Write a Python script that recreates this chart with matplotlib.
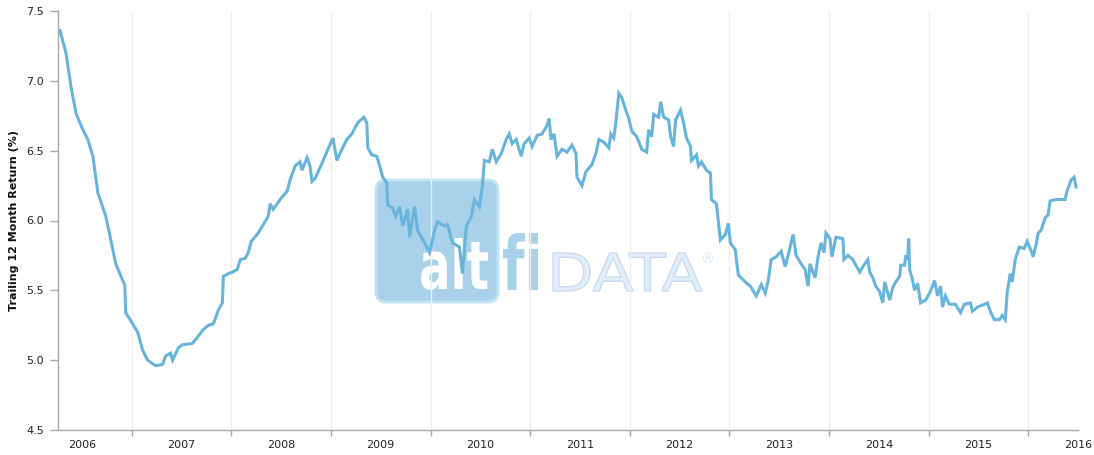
import matplotlib
matplotlib.use("Agg")
import matplotlib.pyplot as plt
from matplotlib.textpath import TextPath
from matplotlib.patches import PathPatch, FancyBboxPatch
from matplotlib.font_manager import FontProperties
from matplotlib.transforms import Affine2D
from matplotlib.ticker import FixedLocator, NullFormatter, FuncFormatter

# ---- data (decimal year, trailing 12 month return %) ----
years = [
    2006.28, 2006.34, 2006.39, 2006.44, 2006.51, 2006.56, 2006.61, 2006.66, 2006.74, 2006.79,
    2006.84, 2006.91, 2006.93, 2006.94, 2007.01, 2007.06, 2007.11, 2007.16, 2007.24, 2007.31,
    2007.34, 2007.39, 2007.41, 2007.47, 2007.51, 2007.61, 2007.72, 2007.77, 2007.82, 2007.87,
    2007.91, 2007.92, 2007.97, 2008.01, 2008.06, 2008.09, 2008.14, 2008.17, 2008.20, 2008.27,
    2008.37, 2008.39, 2008.42, 2008.49, 2008.56, 2008.59, 2008.64, 2008.69, 2008.71, 2008.76,
    2008.79, 2008.81, 2008.84, 2008.91, 2008.97, 2009.02, 2009.06, 2009.11, 2009.16, 2009.21,
    2009.27, 2009.33, 2009.36, 2009.37, 2009.41, 2009.46, 2009.49, 2009.52, 2009.56, 2009.57,
    2009.62, 2009.65, 2009.69, 2009.72, 2009.77, 2009.79, 2009.84, 2009.87, 2009.94, 2009.99,
    2010.04, 2010.07, 2010.14, 2010.17, 2010.22, 2010.29, 2010.32, 2010.36, 2010.41, 2010.44,
    2010.49, 2010.52, 2010.54, 2010.59, 2010.62, 2010.66, 2010.71, 2010.76, 2010.79, 2010.82,
    2010.86, 2010.91, 2010.94, 2010.99, 2011.02, 2011.07, 2011.12, 2011.17, 2011.19, 2011.21,
    2011.24, 2011.27, 2011.32, 2011.37, 2011.42, 2011.46, 2011.47, 2011.52, 2011.56, 2011.62,
    2011.66, 2011.69, 2011.74, 2011.79, 2011.81, 2011.84, 2011.86, 2011.89, 2011.92, 2011.96,
    2011.99, 2012.02, 2012.07, 2012.12, 2012.17, 2012.19, 2012.22, 2012.24, 2012.29, 2012.31,
    2012.34, 2012.39, 2012.41, 2012.44, 2012.46, 2012.51, 2012.54, 2012.57, 2012.61, 2012.62,
    2012.67, 2012.69, 2012.72, 2012.77, 2012.81, 2012.82, 2012.87, 2012.91, 2012.96, 2012.99,
    2013.01, 2013.06, 2013.07, 2013.09, 2013.16, 2013.21, 2013.27, 2013.32, 2013.36, 2013.39,
    2013.42, 2013.47, 2013.52, 2013.56, 2013.59, 2013.64, 2013.67, 2013.72, 2013.76, 2013.79,
    2013.81, 2013.86, 2013.89, 2013.92, 2013.95, 2013.97, 2014.01, 2014.03, 2014.07, 2014.14,
    2014.15, 2014.19, 2014.24, 2014.27, 2014.31, 2014.34, 2014.39, 2014.41, 2014.44, 2014.47,
    2014.51, 2014.54, 2014.56, 2014.59, 2014.61, 2014.64, 2014.67, 2014.71, 2014.72, 2014.76,
    2014.77, 2014.79, 2014.80, 2014.81, 2014.84, 2014.86, 2014.89, 2014.92, 2014.97, 2015.01,
    2015.04, 2015.06, 2015.09, 2015.12, 2015.14, 2015.17, 2015.21, 2015.27, 2015.32, 2015.36,
    2015.42, 2015.44, 2015.49, 2015.56, 2015.59, 2015.62, 2015.66, 2015.71, 2015.74, 2015.77,
    2015.79, 2015.82, 2015.84, 2015.87, 2015.91, 2015.96, 2015.99, 2016.02, 2016.05, 2016.08,
    2016.10, 2016.13, 2016.17, 2016.20, 2016.22, 2016.28, 2016.32, 2016.37, 2016.39, 2016.43,
    2016.46, 2016.48,
]
values = [
    7.36, 7.20, 6.96, 6.77, 6.65, 6.58, 6.46, 6.20, 6.03, 5.86,
    5.69, 5.57, 5.54, 5.34, 5.26, 5.20, 5.07, 5.00, 4.96, 4.97,
    5.03, 5.05, 5.00, 5.09, 5.11, 5.12, 5.22, 5.25, 5.26, 5.36,
    5.41, 5.60, 5.62, 5.63, 5.65, 5.72, 5.73, 5.77, 5.85, 5.91,
    6.03, 6.12, 6.08, 6.15, 6.21, 6.29, 6.39, 6.42, 6.36, 6.45,
    6.39, 6.28, 6.30, 6.41, 6.51, 6.59, 6.43, 6.51, 6.58, 6.62,
    6.70, 6.74, 6.70, 6.52, 6.47, 6.46, 6.39, 6.31, 6.27, 6.11,
    6.09, 6.03, 6.10, 5.96, 6.08, 5.88, 6.10, 5.93, 5.84, 5.77,
    5.93, 5.99, 5.96, 5.97, 5.84, 5.81, 5.62, 5.96, 6.03, 6.15,
    6.10, 6.24, 6.43, 6.42, 6.51, 6.42, 6.48, 6.58, 6.62, 6.55,
    6.58, 6.46, 6.55, 6.59, 6.53, 6.61, 6.62, 6.68, 6.73, 6.58,
    6.62, 6.46, 6.51, 6.49, 6.54, 6.48, 6.31, 6.25, 6.35, 6.40,
    6.48, 6.58, 6.56, 6.52, 6.62, 6.59, 6.70, 6.91, 6.88, 6.79,
    6.73, 6.64, 6.60, 6.51, 6.49, 6.65, 6.60, 6.76, 6.74, 6.85,
    6.74, 6.72, 6.60, 6.53, 6.72, 6.79, 6.70, 6.59, 6.53, 6.43,
    6.47, 6.39, 6.42, 6.36, 6.34, 6.15, 6.12, 5.86, 5.90, 5.98,
    5.84, 5.79, 5.72, 5.61, 5.56, 5.53, 5.46, 5.54, 5.48, 5.57,
    5.72, 5.74, 5.78, 5.67, 5.75, 5.90, 5.75, 5.69, 5.65, 5.53,
    5.69, 5.59, 5.74, 5.84, 5.77, 5.91, 5.87, 5.74, 5.88, 5.87,
    5.72, 5.75, 5.72, 5.68, 5.63, 5.67, 5.72, 5.63, 5.59, 5.53,
    5.49, 5.41, 5.56, 5.48, 5.43, 5.52, 5.56, 5.60, 5.68, 5.68,
    5.75, 5.72, 5.87, 5.65, 5.57, 5.50, 5.55, 5.41, 5.43, 5.48,
    5.53, 5.57, 5.46, 5.53, 5.38, 5.46, 5.40, 5.40, 5.34, 5.40,
    5.41, 5.35, 5.38, 5.40, 5.41, 5.35, 5.29, 5.29, 5.32, 5.29,
    5.49, 5.62, 5.56, 5.72, 5.81, 5.80, 5.85, 5.80, 5.74, 5.83,
    5.91, 5.93, 6.02, 6.04, 6.14, 6.15, 6.15, 6.15, 6.21, 6.29,
    6.31, 6.24,
]
y_ticks = [4.5, 5.0, 5.5, 6.0, 6.5, 7.0, 7.5]
year_labels = [2006, 2007, 2008, 2009, 2010, 2011, 2012, 2013, 2014, 2015, 2016]
y_label = "Trailing 12 Month Return (%)"

W, H = 1094, 455
fig = plt.figure(figsize=(W / 100, H / 100), dpi=100)
ax = fig.add_axes([58 / W, 25 / H, 1020 / W, 419 / H])

pix = Affine2D().scale(1 / W, 1 / H) + fig.transFigure


def fit_text(s, x0, x1, ytop, ybot, weight, fc, ec="none", lw=0, z=0.4):
    tp = TextPath((0, 0), s, size=50, prop=FontProperties(family="DejaVu Sans", weight=weight))
    ext = tp.get_extents()
    sx = (x1 - x0) / ext.width
    sy = (ybot - ytop) / ext.height
    tr = Affine2D().translate(-ext.x0, -ext.y0).scale(sx, sy).translate(x0, H - ybot) + pix
    ax.add_artist(PathPatch(tp, transform=tr, fc=fc, ec=ec, lw=lw, zorder=z))


# watermark
box = FancyBboxPatch((376, H - 302), 122, 122, boxstyle="round,pad=0,rounding_size=10",
                     transform=pix, fc="#a9d2ea", ec="#bfe4f4", lw=2, zorder=0.3)
ax.add_artist(box)
fit_text("alt", 421, 488, 238, 290, "bold", "white")
fit_text("fi", 503, 538, 233, 290, "bold", "#a9d2ea")
fit_text("DATA", 553, 702, 253, 291, "normal", "#e4eefa", "#c6daf0", 1.0)
fit_text("®", 703, 713, 252, 263, "normal", "#dce8f6")

ax.plot(years, values, color="#67b4dc", lw=2.2, zorder=2, solid_joinstyle="miter")

ax.set_xlim(2006.26, 2016.5)
ax.set_ylim(4.5, 7.5)
ax.set_yticks(y_ticks)
ax.yaxis.set_major_formatter(FuncFormatter(lambda v, p: f"{v:.1f}"))

ax.xaxis.set_major_locator(FixedLocator(list(range(2007, 2017))))
ax.xaxis.set_major_formatter(NullFormatter())
ax.xaxis.set_minor_locator(FixedLocator([y + 0.5 for y in year_labels]))
ax.xaxis.set_minor_formatter(FuncFormatter(lambda v, p: f"{int(v)}"))

ax.grid(axis="x", which="major", color="#efefef", lw=1)
for s in ("top", "right"):
    ax.spines[s].set_visible(False)
for s in ("left", "bottom"):
    ax.spines[s].set_color("#a8a8a8")
    ax.spines[s].set_linewidth(1)

ax.tick_params(axis="y", length=6, width=1, color="#a8a8a8", pad=4, labelsize=8, labelcolor="#222222")
ax.tick_params(axis="x", which="major", length=4, width=1, color="#a8a8a8")
ax.tick_params(axis="x", which="minor", length=0, pad=7, labelsize=8, labelcolor="#222222")

ax.set_ylabel(y_label, fontsize=8, fontweight="bold", color="#111111")
ax.yaxis.set_label_coords(-0.038, 0.5)

fig.savefig("out.png", dpi=100)
